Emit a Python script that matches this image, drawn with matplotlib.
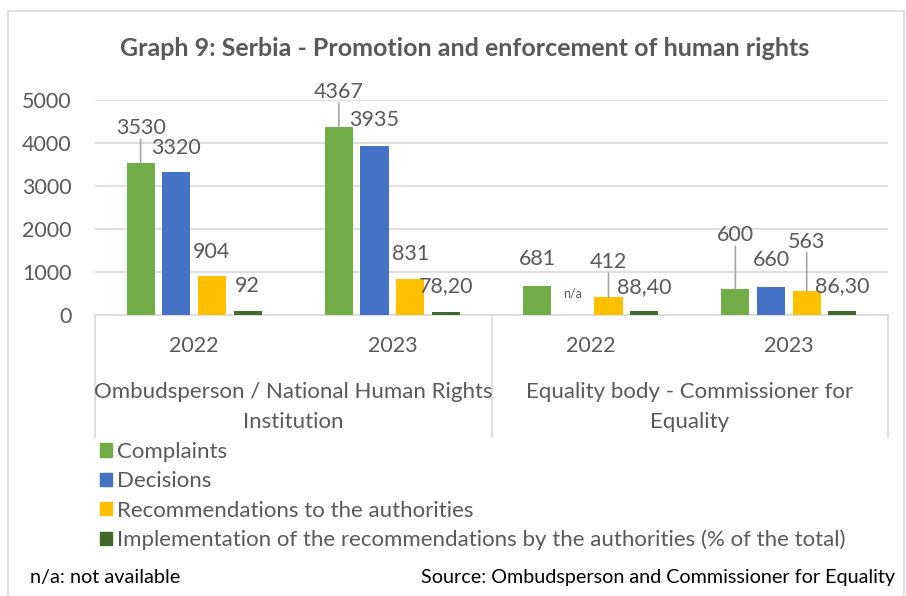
import numpy as np
import matplotlib.pyplot as plt
from matplotlib.patches import Patch, Rectangle

plt.rcParams['font.family'] = ['Lato', 'DejaVu Sans']

years = ['2022', '2023', '2022', '2023']
groups = ['Ombudsperson / National Human Rights\nInstitution',
          'Equality body - Commissioner for\nEquality']
series = ['Complaints', 'Decisions', 'Recommendations to the authorities',
          'Implementation of the recommendations by the authorities (% of the total)']
complaints = [3530, 4367, 681, 600]
decisions = [3320, 3935, np.nan, 660]
recommendations = [904, 831, 412, 563]
implementation = [92, 78.2, 88.4, 86.3]
values = [complaints, decisions, recommendations, implementation]
colors = ['#70AD47', '#4472C4', '#FFC000', '#43682B']
text_col = '#595959'
grid_col = '#D9D9D9'

# label offsets above bar top (px) and whether a leader line is drawn
lab_dy = [[35, 35, 27, 54], [24, 26, 22, 27], [24, 25, 35, 49], [25, 26, 24, 25]]
leader = [[True, True, False, True], [False] * 4, [False, False, True, True], [False] * 4]


def fmt(v):
    if float(v).is_integer():
        return str(int(v))
    return f'{v:.2f}'.replace('.', ',')


W, H = 906, 596
fig = plt.figure(figsize=(W / 100, H / 100), dpi=100)
fig.patches.append(Rectangle((8 / W, -0.1), 896 / W, 1.1 - 11 / H, transform=fig.transFigure,
                             fill=False, edgecolor=grid_col, lw=1.2))

ax = fig.add_axes([95 / W, 1 - 315 / H, 793 / W, 215 / H])
x = np.arange(len(years))
step, bw = 0.18, 0.142
fs = 15.5
for i, (vals, c) in enumerate(zip(values, colors)):
    pos = x + (i - 1.5) * step
    ax.bar(pos, vals, bw, color=c, zorder=3)
    for j, v in enumerate(vals):
        if np.isnan(v):
            ax.annotate('n/a', (pos[j], 0), xytext=(0, lab_dy[i][j]), textcoords='offset pixels',
                        ha='center', va='center', fontsize=9, color=text_col)
            continue
        ax.annotate(fmt(v), (pos[j], v), xytext=(0, lab_dy[i][j]), textcoords='offset pixels',
                    ha='center', va='center', fontsize=fs, color=text_col, annotation_clip=False)
        if leader[i][j]:
            ax.annotate('', (pos[j], v), xytext=(0, lab_dy[i][j] - 11), textcoords='offset pixels',
                        arrowprops=dict(arrowstyle='-', color='#A6A6A6', lw=1.2,
                                        shrinkA=0, shrinkB=0), annotation_clip=False)

ax.set_xlim(-0.5, 3.5)
ax.set_ylim(0, 5000)
ax.set_yticks(range(0, 5001, 1000))
ax.tick_params(axis='y', length=0, labelsize=fs, labelcolor=text_col, pad=17)
ax.tick_params(axis='x', length=0, labelbottom=False)
ax.grid(axis='y', color=grid_col, lw=1.2, zorder=0)
for s in ['top', 'right', 'left']:
    ax.spines[s].set_visible(False)
ax.spines['bottom'].set_color(grid_col)
ax.spines['bottom'].set_linewidth(1.2)

tr = ax.get_xaxis_transform()
sep_bottom = -(437 - 315) / 215
for xs in [-0.5, 1.5, 3.5]:
    ax.plot([xs, xs], [0, sep_bottom], transform=tr, color=grid_col, lw=1.2, clip_on=False)
for j, yr in enumerate(years):
    ax.text(j, -(346 - 315) / 215, yr, transform=tr, ha='center', va='center',
            fontsize=fs, color=text_col)
for g, name in enumerate(groups):
    ax.text(0.5 + 2 * g, -(407 - 315) / 215, name, transform=tr, ha='center', va='center',
            fontsize=16, color=text_col, linespacing=1.65)

handles = [Patch(color=c) for c in colors]
fig.legend(handles, series, loc='upper left', bbox_to_anchor=(91 / W, 1 - 433 / H),
           frameon=False, fontsize=16, labelcolor=text_col, handlelength=0.55,
           handleheight=0.55, handletextpad=0.2, labelspacing=0.42, borderaxespad=0)

fig.text(465 / W, 1 - 48 / H, 'Graph 9: Serbia - Promotion and enforcement of human rights',
         ha='center', va='center', fontsize=18, fontweight='bold', color=text_col)
fig.text(30 / W, 1 - 578 / H, 'n/a: not available', ha='left', va='center',
         fontsize=14.3, color='black')
fig.text(895 / W, 1 - 578 / H, 'Source: Ombudsperson and Commissioner for Equality',
         ha='right', va='center', fontsize=14.2, color='black')

fig.savefig('out.png', dpi=100)
